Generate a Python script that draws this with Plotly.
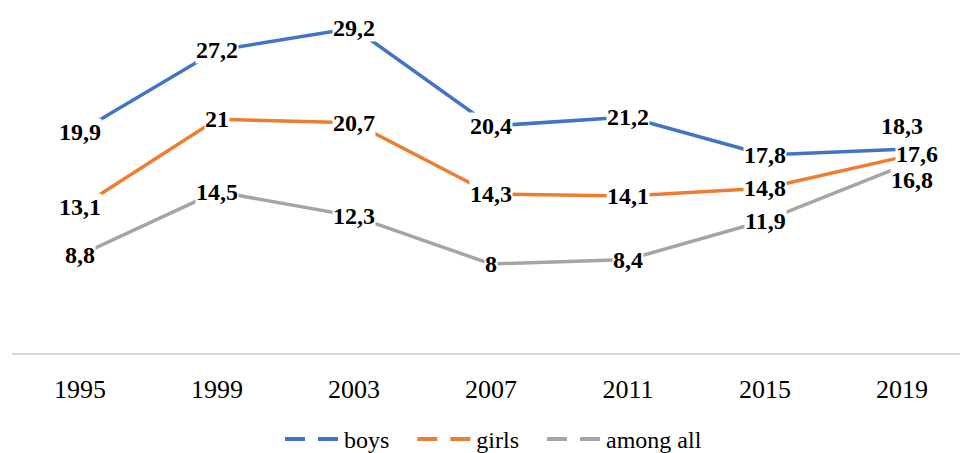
import plotly.graph_objects as go

years = ["1995", "1999", "2003", "2007", "2011", "2015", "2019"]
boys = [19.9, 27.2, 29.2, 20.4, 21.2, 17.8, 18.3]
girls = [13.1, 21.0, 20.7, 14.3, 14.1, 14.8, 17.6]
among_all = [8.8, 14.5, 12.3, 8.0, 8.4, 11.9, 16.8]

series = [
    ("boys", boys, "#4472C4"),
    ("girls", girls, "#ED7D31"),
    ("among all", among_all, "#A5A5A5"),
]

# label offsets (px) for the last point of each series; others centred
last_shift = {"boys": (0, 23), "girls": (15, 3), "among all": (10, -14)}

SERIF = "Liberation Serif, Times New Roman, serif"
xpos = list(range(len(years)))
PAD = "\u00a0" * 3

fig = go.Figure()
for name, vals, color in series:
    fig.add_trace(go.Scatter(
        x=xpos, y=vals, mode="lines", name=name,
        line=dict(color=color, width=3.5), showlegend=False,
        hoverinfo="skip",
    ))
for k, (name, vals, color) in enumerate(series):
    fig.add_trace(go.Scatter(
        x=[None], y=[None], mode="lines",
        name=name + (PAD if k < len(series) - 1 else ""),
        line=dict(color=color, width=4, dash="20px,13px"), showlegend=True,
    ))

# draw gray first, girls last so its label stays on top
for name, vals, color in [series[0], series[2], series[1]]:
    for i, v in enumerate(vals):
        xs, ys = (0, 0)
        if i == len(vals) - 1:
            xs, ys = last_shift[name]
        txt = f"{v:g}".replace(".", ",")
        fig.add_annotation(
            x=xpos[i], y=v, xref="x", yref="y", text="<b>" + txt + "</b>",
            showarrow=False, xshift=xs, yshift=ys,
            bgcolor="white", borderpad=0,
            font=dict(family=SERIF, size=24, color="black"),
        )

fig.update_layout(
    width=960, height=453,
    margin=dict(l=12, r=0, t=0, b=100),
    paper_bgcolor="white", plot_bgcolor="white",
    font=dict(family=SERIF, color="black"),
    xaxis=dict(
        range=[-0.496, 6.423], tickmode="array", tickvals=xpos, ticktext=years,
        showgrid=False, zeroline=False,
        showline=True, linecolor="#D9D9D9", linewidth=1.5,
        ticks="outside", ticklen=12, tickcolor="rgba(0,0,0,0)",
        tickfont=dict(family=SERIF, size=26, color="black"),
    ),
    yaxis=dict(
        range=[0, 31.72], showgrid=False, zeroline=False,
        showline=False, showticklabels=False, ticks="",
    ),
    legend=dict(
        orientation="h", x=0.2827, xanchor="left",
        yref="container", y=0.03, yanchor="middle",
        font=dict(family=SERIF, size=24, color="black"),
        itemwidth=54,
    ),
    showlegend=True,
)

fig.write_html("out.html", config={"displayModeBar": False},
               post_script="document.body.style.margin='0';")
